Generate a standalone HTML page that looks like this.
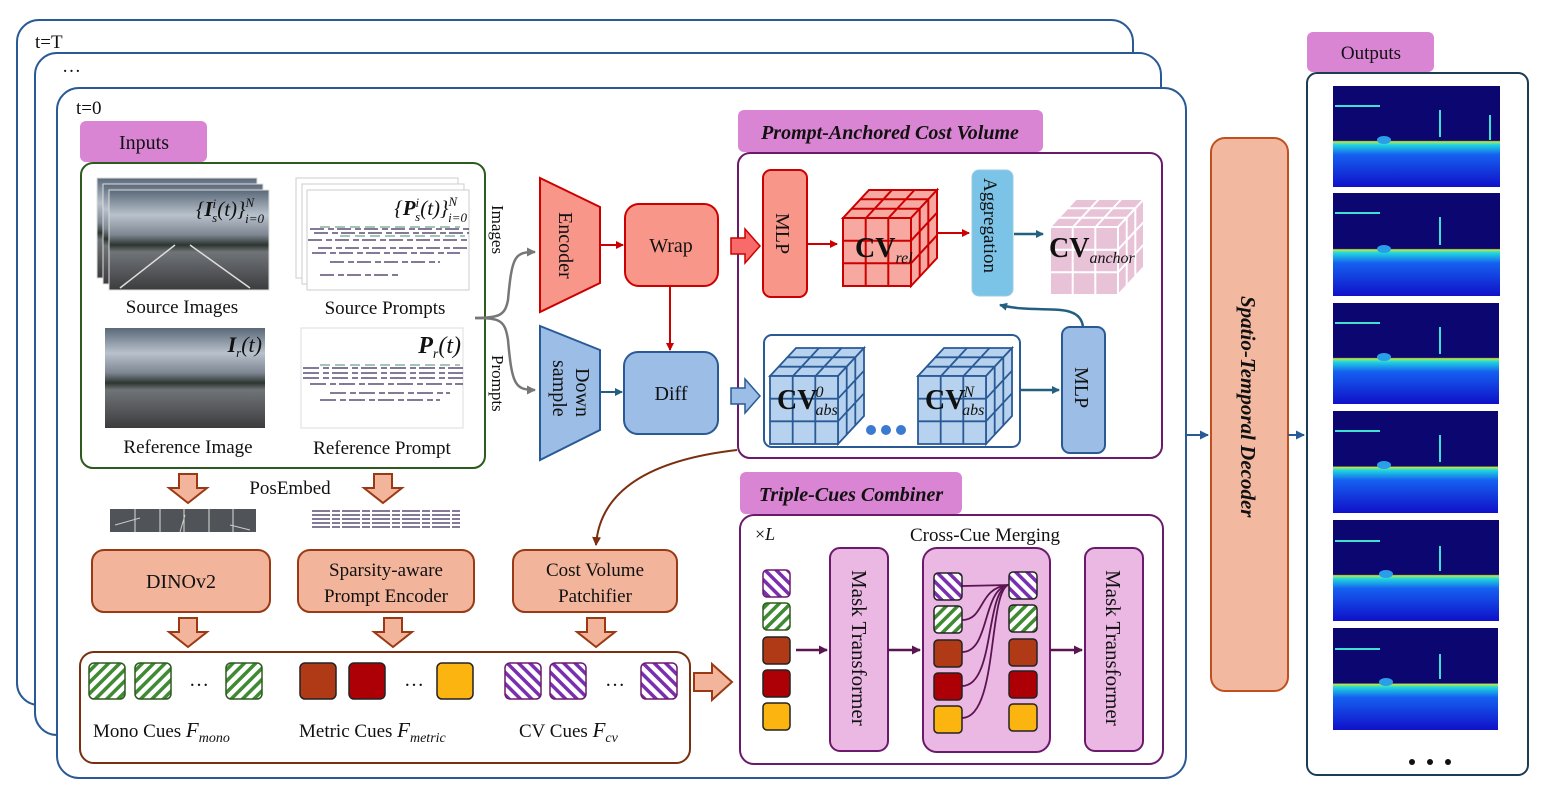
<!DOCTYPE html>
<html><head><meta charset="utf-8"><style>
html,body{margin:0;padding:0;background:#fff}
svg{display:block}
text{font-family:"Liberation Serif",serif;fill:#111}
</style></head><body>
<svg width="1542" height="792" viewBox="0 0 1542 792" xmlns="http://www.w3.org/2000/svg">
<defs>
<linearGradient id="photo" x1="0" y1="0" x2="0" y2="1">
<stop offset="0" stop-color="#5a6878"/><stop offset="0.25" stop-color="#b8c2cc"/><stop offset="0.45" stop-color="#7c8590"/><stop offset="0.55" stop-color="#2d3530"/><stop offset="0.62" stop-color="#707478"/><stop offset="1" stop-color="#3c3c3e"/>
</linearGradient>
<linearGradient id="depth" x1="0" y1="0" x2="0" y2="1">
<stop offset="0" stop-color="#0b0670"/><stop offset="0.54" stop-color="#0b0670"/><stop offset="0.55" stop-color="#c8e83a"/><stop offset="0.58" stop-color="#20d8e0"/><stop offset="0.68" stop-color="#1560f0"/><stop offset="1" stop-color="#1010c8"/>
</linearGradient>
<pattern id="hg" width="8" height="8" patternUnits="userSpaceOnUse" patternTransform="rotate(45)"><rect width="8" height="8" fill="#fff"/><rect width="3.5" height="8" fill="#3f8a32"/></pattern>
<pattern id="hp" width="8" height="8" patternUnits="userSpaceOnUse" patternTransform="rotate(-45)"><rect width="8" height="8" fill="#fff"/><rect width="3.5" height="8" fill="#7a2fb0"/></pattern>
<g id="cube">
<polygon points="0,28 26,0 94,0 68,28"/>
<polygon points="68,28 94,0 94,68 68,96"/>
<rect x="0" y="28" width="68" height="68"/>
<path d="M22.7,28V96M45.3,28V96M0,50.7H68M0,73.3H68M8.7,18.7H77M17.3,9.3H85.5M23,28L49,0M45.5,28L71.5,0M76.7,18.7V86.7M85.3,9.3V77.3M68,50.7L94,22.7M68,73.3L94,45.3" fill="none"/>
</g>
<marker id="arR" markerWidth="8" markerHeight="8" refX="7" refY="4" orient="auto" markerUnits="userSpaceOnUse"><path d="M0,0L8,4L0,8z" fill="#c00"/></marker>
<marker id="arB" markerWidth="8" markerHeight="8" refX="7" refY="4" orient="auto" markerUnits="userSpaceOnUse"><path d="M0,0L8,4L0,8z" fill="#23607f"/></marker>
<marker id="arG" markerWidth="9" markerHeight="9" refX="8" refY="4.5" orient="auto" markerUnits="userSpaceOnUse"><path d="M0,0L9,4.5L0,9z" fill="#777"/></marker>
<marker id="arP" markerWidth="9" markerHeight="9" refX="8" refY="4.5" orient="auto" markerUnits="userSpaceOnUse"><path d="M0,0L9,4.5L0,9z" fill="#5a1450"/></marker>
<marker id="arBr" markerWidth="9" markerHeight="9" refX="8" refY="4.5" orient="auto" markerUnits="userSpaceOnUse"><path d="M0,0L9,4.5L0,9z" fill="#7a3010"/></marker>
<marker id="arN" markerWidth="9" markerHeight="9" refX="8" refY="4.5" orient="auto" markerUnits="userSpaceOnUse"><path d="M0,0L9,4.5L0,9z" fill="#2a5a96"/></marker>
</defs>

<rect x="17" y="20" width="1116" height="685" rx="22" fill="#fff" stroke="#2a5a96" stroke-width="2"/>
<text x="35" y="48" font-size="19">t=T</text>
<rect x="35" y="53" width="1126" height="682" rx="22" fill="#fff" stroke="#2a5a96" stroke-width="2"/>
<text x="62" y="72" font-size="19">…</text>
<rect x="57" y="88" width="1129" height="690" rx="22" fill="#fff" stroke="#2a5a96" stroke-width="2"/>
<text x="76" y="114" font-size="19">t=0</text>

<rect x="80" y="121" width="127" height="41" rx="6" fill="#da84d4"/>
<text x="144" y="149" font-size="20" text-anchor="middle">Inputs</text>
<rect x="81" y="163" width="404" height="305" rx="12" fill="#fff" stroke="#2d5a1e" stroke-width="2"/>
<rect x="97" y="178" width="160" height="100" fill="url(#photo)" stroke="#ddd"/>
<rect x="103" y="184" width="160" height="100" fill="url(#photo)" stroke="#ddd"/>
<rect x="109" y="190" width="160" height="100" fill="url(#photo)" stroke="#ddd"/>
<path d="M120,288L175,245M250,288L190,245" stroke="#ddd" stroke-width="1.5"/>
<text x="264" y="216" font-size="21" text-anchor="end" font-style="italic">{<tspan font-weight="bold">I</tspan><tspan font-size="13" dy="-8">i</tspan><tspan font-size="13" dx="-4" dy="14">s</tspan><tspan dy="-6">(t)}</tspan><tspan font-size="13" dy="-9">N</tspan><tspan font-size="13" dx="-9" dy="16">i=0</tspan></text>
<text x="182" y="313" font-size="19" text-anchor="middle">Source Images</text>
<rect x="296" y="178" width="162" height="100" fill="#fff" stroke="#ccc"/>
<rect x="302" y="184" width="162" height="100" fill="#fff" stroke="#ccc"/>
<rect x="307" y="190" width="162" height="100" fill="#fff" stroke="#ccc"/>
<path d="M310,229H469M314,233H469M308,240H469M318,248H469M312,253H460M330,262H440M320,275H400" stroke="#3a2a5a" stroke-width="1.3" stroke-dasharray="14 4 6 3"/>
<path d="M320,227H460M340,236H465" stroke="#4a8a6a" stroke-width="1" stroke-dasharray="10 5"/>
<text x="467" y="215" font-size="21" text-anchor="end" font-style="italic">{<tspan font-weight="bold">P</tspan><tspan font-size="13" dy="-8">i</tspan><tspan font-size="13" dx="-4" dy="14">s</tspan><tspan dy="-6">(t)}</tspan><tspan font-size="13" dy="-9">N</tspan><tspan font-size="13" dx="-9" dy="16">i=0</tspan></text>
<text x="385" y="314" font-size="19" text-anchor="middle">Source Prompts</text>
<rect x="105" y="328" width="160" height="100" fill="url(#photo)"/>
<text x="262" y="352" font-size="22" text-anchor="end" font-style="italic"><tspan font-weight="bold">I</tspan><tspan font-size="13" dy="5">r</tspan><tspan dy="-5">(t)</tspan></text>
<text x="188" y="453" font-size="19" text-anchor="middle">Reference Image</text>
<rect x="301" y="328" width="162" height="100" fill="#fff" stroke="#ddd"/>
<path d="M303,368H463M303,373H463M303,378H463M310,384H463M330,393H450M320,400H440" stroke="#3a2a5a" stroke-width="1.3" stroke-dasharray="16 4 6 3"/>
<path d="M320,365H460" stroke="#4a8a6a" stroke-width="1" stroke-dasharray="10 5"/>
<text x="461" y="353" font-size="24" text-anchor="end" font-style="italic"><tspan font-weight="bold">P</tspan><tspan font-size="14" dy="5">r</tspan><tspan dy="-5">(t)</tspan></text>
<text x="382" y="454" font-size="19" text-anchor="middle">Reference Prompt</text>

<path d="M475,318C500,318 505,315 508,300C512,255 515,252 535,252" fill="none" stroke="#777" stroke-width="2.5" marker-end="url(#arG)"/>
<path d="M475,318C500,318 505,320 508,340C512,385 515,390 535,390" fill="none" stroke="#777" stroke-width="2.5" marker-end="url(#arG)"/>
<text transform="translate(492,205) rotate(90)" font-size="17">Images</text>
<text transform="translate(492,355) rotate(90)" font-size="17">Prompts</text>

<polygon points="540,178 600,207 600,283 540,312" fill="#f9968a" stroke="#c00" stroke-width="2"/>
<text transform="translate(559,212) rotate(90)" font-size="20">Encoder</text>
<polygon points="540,326 600,350 600,430 540,460" fill="#9bbde6" stroke="#2a5a96" stroke-width="2"/>
<text transform="translate(576,368) rotate(90)" font-size="20">Down</text>
<text transform="translate(553,360) rotate(90)" font-size="20">sample</text>
<rect x="625" y="204" width="93" height="82" rx="14" fill="#f9968a" stroke="#c00" stroke-width="2"/>
<text x="671" y="252" font-size="20" text-anchor="middle">Wrap</text>
<rect x="624" y="352" width="94" height="82" rx="14" fill="#9bbde6" stroke="#2a5a96" stroke-width="2"/>
<text x="671" y="400" font-size="20" text-anchor="middle">Diff</text>
<line x1="600" y1="245" x2="623" y2="245" stroke="#c00" stroke-width="2" marker-end="url(#arR)"/>
<line x1="600" y1="392" x2="622" y2="392" stroke="#23607f" stroke-width="2" marker-end="url(#arB)"/>
<line x1="670" y1="286" x2="670" y2="350" stroke="#c00" stroke-width="2" marker-end="url(#arR)"/>

<rect x="738" y="110" width="305" height="42" rx="6" fill="#da84d4"/>
<text x="890" y="139" font-size="20" text-anchor="middle" font-style="italic" font-weight="bold">Prompt-Anchored Cost Volume</text>
<rect x="738" y="153" width="424" height="305" rx="12" fill="#fff" stroke="#6b1a6b" stroke-width="2"/>
<polygon points="731,238 745,238 745,229 760,246 745,263 745,254 731,254" fill="#f96a6a" stroke="#c00" stroke-width="1.5"/>
<polygon points="731,388 745,388 745,379 760,396 745,413 745,404 731,404" fill="#9bbde6" stroke="#2a5a96" stroke-width="1.5"/>
<rect x="763" y="170" width="44" height="127" rx="8" fill="#f9968a" stroke="#c00" stroke-width="2"/>
<text transform="translate(776,213) rotate(90)" font-size="20">MLP</text>
<line x1="807" y1="244" x2="837" y2="244" stroke="#c00" stroke-width="2" marker-end="url(#arR)"/>
<use href="#cube" transform="translate(843,190)" fill="#f7a8a0" stroke="#c00" stroke-width="2"/>
<text x="855" y="257" font-size="28" font-weight="bold">CV<tspan font-size="16" font-weight="normal" font-style="italic" dy="6">rel</tspan></text>
<line x1="938" y1="233" x2="969" y2="233" stroke="#c00" stroke-width="2" marker-end="url(#arR)"/>
<rect x="972" y="170" width="41" height="126" rx="7" fill="#7cc3e8" stroke="#9cd" stroke-width="1"/>
<text transform="translate(984,178) rotate(90)" font-size="19">Aggregation</text>
<line x1="1014" y1="234" x2="1043" y2="234" stroke="#23607f" stroke-width="2.5" marker-end="url(#arB)"/>
<use href="#cube" transform="translate(1050,199)" fill="#e8c2d6" stroke="#fff" stroke-width="2"/>
<text x="1049" y="257" font-size="28" font-weight="bold">CV<tspan font-size="16" font-weight="normal" font-style="italic" dy="6">anchor</tspan></text>
<rect x="764" y="335" width="256" height="112" rx="8" fill="#fff" stroke="#2a5a96" stroke-width="2"/>
<use href="#cube" transform="translate(770,348)" fill="#b7d2ee" stroke="#2a5a96" stroke-width="1.8"/>
<text x="777" y="409" font-size="28" font-weight="bold">CV<tspan font-size="16" font-weight="normal" font-style="italic" dx="-2" dy="-12">0</tspan><tspan font-size="16" font-weight="normal" font-style="italic" dx="-8" dy="18">abs</tspan></text>
<use href="#cube" transform="translate(918,348)" fill="#b7d2ee" stroke="#2a5a96" stroke-width="1.8"/>
<text x="925" y="409" font-size="28" font-weight="bold">CV<tspan font-size="16" font-weight="normal" font-style="italic" dx="-2" dy="-12">N</tspan><tspan font-size="16" font-weight="normal" font-style="italic" dx="-12" dy="18">abs</tspan></text>
<circle cx="871" cy="430" r="5" fill="#3a7ad0"/><circle cx="886" cy="430" r="5" fill="#3a7ad0"/><circle cx="901" cy="430" r="5" fill="#3a7ad0"/>
<line x1="1020" y1="390" x2="1059" y2="390" stroke="#23607f" stroke-width="2.5" marker-end="url(#arB)"/>
<rect x="1062" y="327" width="43" height="126" rx="8" fill="#9bbde6" stroke="#2a5a96" stroke-width="2"/>
<text transform="translate(1075,367) rotate(90)" font-size="20">MLP</text>
<path d="M1083,327C1080,300 1040,315 1000,305" fill="none" stroke="#23607f" stroke-width="2.5" marker-end="url(#arB)"/>

<path d="M737,450C650,460 600,490 596,545" fill="none" stroke="#7a3010" stroke-width="2" marker-end="url(#arBr)"/>

<rect x="740" y="472" width="222" height="42" rx="6" fill="#da84d4"/>
<text x="851" y="501" font-size="20" text-anchor="middle" font-style="italic" font-weight="bold">Triple-Cues Combiner</text>
<rect x="740" y="515" width="423" height="249" rx="14" fill="#fff" stroke="#6b1a6b" stroke-width="2"/>
<text x="755" y="540" font-size="18">×<tspan font-style="italic">L</tspan></text>
<text x="985" y="541" font-size="19" text-anchor="middle">Cross-Cue Merging</text>
<g stroke="#222" stroke-width="1.5">
<rect x="763" y="570" width="27" height="27" rx="4" fill="url(#hp)" stroke="#6b1a6b"/>
<rect x="763" y="603" width="27" height="27" rx="4" fill="url(#hg)" stroke="#2d5a1e"/>
<rect x="763" y="637" width="27" height="27" rx="4" fill="#b03a16"/>
<rect x="763" y="670" width="27" height="27" rx="4" fill="#ad0006"/>
<rect x="763" y="703" width="27" height="27" rx="4" fill="#fcb410"/>
</g>
<line x1="796" y1="650" x2="827" y2="650" stroke="#5a1450" stroke-width="2.5" marker-end="url(#arP)"/>
<rect x="830" y="548" width="58" height="203" rx="10" fill="#ebb8e4" stroke="#6b1a6b" stroke-width="2"/>
<text transform="translate(852,570) rotate(90)" font-size="21">Mask Transformer</text>
<line x1="888" y1="650" x2="920" y2="650" stroke="#5a1450" stroke-width="2.5" marker-end="url(#arP)"/>
<rect x="923" y="548" width="127" height="204" rx="14" fill="#ebb8e4" stroke="#6b1a6b" stroke-width="2"/>
<g fill="none" stroke="#5a1450" stroke-width="1.8">
<path d="M962,586L1009,585"/>
<path d="M962,620C985,620 978,588 1008,585"/>
<path d="M962,652C990,652 982,590 1008,585"/>
<path d="M962,686C995,686 985,592 1008,585"/>
<path d="M962,718C998,718 988,594 1008,585"/>
</g>
<g stroke="#222" stroke-width="1.5">
<rect x="934" y="573" width="28" height="27" rx="4" fill="url(#hp)"/>
<rect x="934" y="606" width="28" height="27" rx="4" fill="url(#hg)"/>
<rect x="934" y="640" width="28" height="27" rx="4" fill="#b03a16"/>
<rect x="934" y="673" width="28" height="27" rx="4" fill="#ad0006"/>
<rect x="934" y="706" width="28" height="27" rx="4" fill="#fcb410"/>
<rect x="1009" y="572" width="28" height="27" rx="4" fill="url(#hp)"/>
<rect x="1009" y="605" width="28" height="27" rx="4" fill="url(#hg)"/>
<rect x="1009" y="639" width="28" height="27" rx="4" fill="#b03a16"/>
<rect x="1009" y="671" width="28" height="27" rx="4" fill="#ad0006"/>
<rect x="1009" y="704" width="28" height="27" rx="4" fill="#fcb410"/>
</g>
<line x1="1050" y1="650" x2="1082" y2="650" stroke="#5a1450" stroke-width="2.5" marker-end="url(#arP)"/>
<rect x="1085" y="548" width="58" height="203" rx="10" fill="#ebb8e4" stroke="#6b1a6b" stroke-width="2"/>
<text transform="translate(1106,570) rotate(90)" font-size="21">Mask Transformer</text>

<g fill="#f2b49a" stroke="#9a3a14" stroke-width="2">
<polygon points="179,474 197,474 197,488 207,488 188,503 169,488 179,488"/>
<polygon points="374,474 392,474 392,488 402,488 383,503 364,488 374,488"/>
<polygon points="179,618 197,618 197,632 207,632 188,647 169,632 179,632"/>
<polygon points="384,618 402,618 402,632 412,632 393,647 374,632 384,632"/>
<polygon points="587,618 605,618 605,632 615,632 596,647 577,632 587,632"/>
<polygon points="694,673 712,673 712,664 732,682 712,700 712,691 694,691"/>
</g>
<text x="290" y="494" font-size="19" text-anchor="middle">PosEmbed</text>
<rect x="110" y="509" width="146" height="23" fill="#505458"/>
<path d="M135,509V532M160,509V532M184,509V532M209,509V532M233,509V532" stroke="#ddd" stroke-width="1"/>
<path d="M115,525L140,518M180,532L185,515M230,525L250,530" stroke="#ccc" stroke-width="1"/>
<path d="M312,511H460M312,515H460M312,519H460M312,523H460M312,527H460" stroke="#3a2a5a" stroke-width="1.3" stroke-dasharray="18 2 8 2"/>
<rect x="92" y="550" width="178" height="62" rx="12" fill="#f2b49a" stroke="#9a3a14" stroke-width="2"/>
<text x="181" y="588" font-size="20" text-anchor="middle">DINOv2</text>
<rect x="298" y="550" width="176" height="62" rx="12" fill="#f2b49a" stroke="#9a3a14" stroke-width="2"/>
<text x="386" y="576" font-size="19" text-anchor="middle">Sparsity-aware</text>
<text x="386" y="602" font-size="19" text-anchor="middle">Prompt Encoder</text>
<rect x="513" y="550" width="164" height="62" rx="12" fill="#f2b49a" stroke="#9a3a14" stroke-width="2"/>
<text x="595" y="576" font-size="19" text-anchor="middle">Cost Volume</text>
<text x="595" y="602" font-size="19" text-anchor="middle">Patchifier</text>
<rect x="80" y="652" width="610" height="111" rx="14" fill="#fff" stroke="#7a3010" stroke-width="2"/>
<g stroke-width="1.5">
<rect x="89" y="663" width="36" height="36" rx="5" fill="url(#hg)" stroke="#2d5a1e"/>
<rect x="135" y="663" width="36" height="36" rx="5" fill="url(#hg)" stroke="#2d5a1e"/>
<rect x="226" y="663" width="36" height="36" rx="5" fill="url(#hg)" stroke="#2d5a1e"/>
<rect x="300" y="663" width="36" height="36" rx="5" fill="#b03a16" stroke="#222"/>
<rect x="349" y="663" width="36" height="36" rx="5" fill="#ad0006" stroke="#222"/>
<rect x="437" y="663" width="36" height="36" rx="5" fill="#fcb410" stroke="#222"/>
<rect x="505" y="663" width="36" height="36" rx="5" fill="url(#hp)" stroke="#6b1a6b"/>
<rect x="550" y="663" width="36" height="36" rx="5" fill="url(#hp)" stroke="#6b1a6b"/>
<rect x="641" y="663" width="36" height="36" rx="5" fill="url(#hp)" stroke="#6b1a6b"/>
</g>
<text x="199" y="686" font-size="20" text-anchor="middle">…</text>
<text x="414" y="686" font-size="20" text-anchor="middle">…</text>
<text x="615" y="686" font-size="20" text-anchor="middle">…</text>
<text x="93" y="737" font-size="19">Mono Cues <tspan font-style="italic" font-size="21">F</tspan><tspan font-style="italic" font-size="14" dy="5">mono</tspan></text>
<text x="299" y="737" font-size="19">Metric Cues <tspan font-style="italic" font-size="21">F</tspan><tspan font-style="italic" font-size="14" dy="5">metric</tspan></text>
<text x="519" y="737" font-size="19">CV Cues <tspan font-style="italic" font-size="21">F</tspan><tspan font-style="italic" font-size="14" dy="5">cv</tspan></text>

<line x1="1186" y1="435" x2="1208" y2="435" stroke="#2a5a96" stroke-width="2" marker-end="url(#arN)"/>
<rect x="1211" y="138" width="77" height="553" rx="14" fill="#f2b9a0" stroke="#c0501e" stroke-width="2"/>
<text transform="translate(1241,296) rotate(90)" font-size="21" font-style="italic" font-weight="bold">Spatio-Temporal Decoder</text>
<line x1="1288" y1="435" x2="1304" y2="435" stroke="#2a5a96" stroke-width="2" marker-end="url(#arN)"/>

<rect x="1307" y="32" width="127" height="40" rx="6" fill="#da84d4"/>
<text x="1371" y="59" font-size="19" text-anchor="middle">Outputs</text>
<rect x="1307" y="73" width="221" height="702" rx="10" fill="#fff" stroke="#1c3c52" stroke-width="2"/>
<g>
<rect x="1333" y="86" width="167" height="101" fill="url(#depth)"/>
<rect x="1333" y="193" width="167" height="103" fill="url(#depth)"/>
<rect x="1333" y="303" width="166" height="101" fill="url(#depth)"/>
<rect x="1333" y="411" width="165" height="102" fill="url(#depth)"/>
<rect x="1333" y="520" width="166" height="101" fill="url(#depth)"/>
<rect x="1333" y="628" width="165" height="102" fill="url(#depth)"/>
</g>
<g stroke="#3ee0d0" stroke-width="2" fill="none">
<path d="M1335,106H1380M1440,110V137M1490,115V140M1335,213H1380M1440,217V245M1335,323H1380M1440,327V354M1335,431H1380M1440,435V462M1335,541H1380M1440,546V571M1335,649H1380M1440,654V679"/>
</g>
<g fill="#2a9ee8">
<ellipse cx="1384" cy="140" rx="7" ry="4"/><ellipse cx="1384" cy="249" rx="7" ry="4"/><ellipse cx="1384" cy="357" rx="7" ry="4"/><ellipse cx="1384" cy="465" rx="7" ry="4"/><ellipse cx="1386" cy="574" rx="7" ry="4"/><ellipse cx="1386" cy="682" rx="7" ry="4"/>
</g>
<circle cx="1412" cy="762" r="3" fill="#111"/><circle cx="1430" cy="762" r="3" fill="#111"/><circle cx="1448" cy="762" r="3" fill="#111"/>
</svg>
</body></html>
